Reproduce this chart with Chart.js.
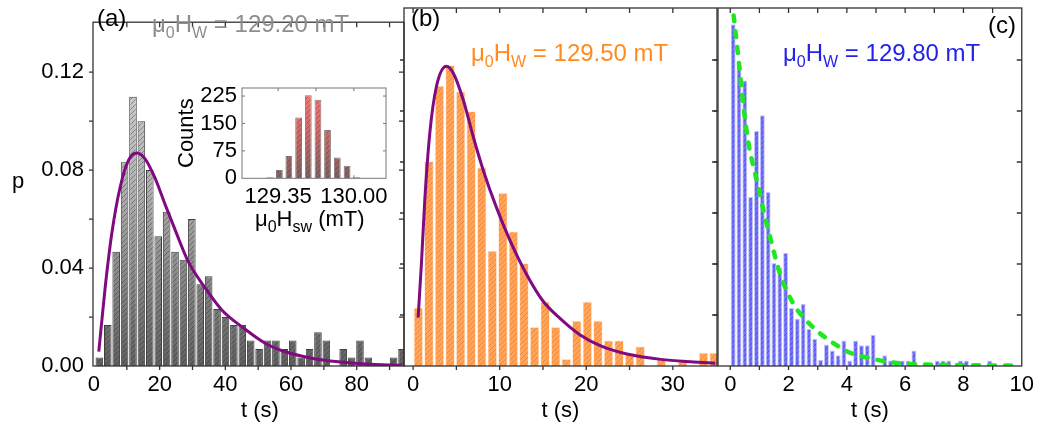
<!doctype html>
<html lang="en">
<head>
<meta charset="UTF-8">
<title>Waiting time histograms</title>
<script src="https://cdn.jsdelivr.net/npm/chart.js"></script>
<style>
    body { margin: 0; background: #fff; }
    #wrap { position: relative; width: 1040px; height: 428px; overflow: hidden;
            font-family: "Liberation Sans", Arial, sans-serif; }
    #wrap canvas { position: absolute; left: 0; top: 0; }
    .lbl { position: absolute; font-size: 22px; line-height: 22px; white-space: nowrap; }
    .big { font-size: 24px; line-height: 24px; }
    .lbl sub { font-size: 16px; vertical-align: -6px; line-height: 0; }
</style>
</head>
<body>
<div id="wrap">
    <canvas id="chartA" width="1040" height="428"></canvas>
    <canvas id="chartB" width="1040" height="428"></canvas>
    <canvas id="chartC" width="1040" height="428"></canvas>
    <canvas id="inset" width="1040" height="428"></canvas>

    <div class="lbl" style="left:12px; top:170px;">p</div>
    <div class="lbl" style="left:241px; top:399px;">t (s)</div>

    <div class="lbl big" style="left:97px; top:6px;">(a)</div>
    <div class="lbl big" style="left:411px; top:6px;">(b)</div>
    <div class="lbl big" style="left:988px; top:13px;">(c)</div>

    <div class="lbl big" style="left:152px; top:12px; color:#8e8e8e;">&mu;<sub>0</sub>H<sub>W</sub> = 129.20 mT</div>
    <div class="lbl big" style="left:471px; top:41px; color:#ff8a1e;">&mu;<sub>0</sub>H<sub>W</sub> = 129.50 mT</div>
    <div class="lbl big" style="left:783px; top:41px; color:#2222e8;">&mu;<sub>0</sub>H<sub>W</sub> = 129.80 mT</div>

    <div class="lbl" style="left:255px; top:208px;">&mu;<sub>0</sub>H<sub>sw</sub> (mT)</div>
</div>

<script>
    // ---- data ----
    // (a) mu0HW = 129.20 mT : bin centres (s) and probabilities
    var tA = [1.64, 4.20, 6.76, 9.32, 11.88, 14.44, 17.00, 19.56, 22.12, 24.68, 27.24, 29.80, 32.36,
        34.92, 37.48, 40.04, 42.60, 45.16, 47.72, 50.28, 52.84, 55.40, 57.96, 60.52, 63.08, 65.64,
        68.20, 70.76, 73.32, 75.88, 78.44, 81.00, 83.56, 86.12, 88.68, 91.24, 93.80];
    var pA = [0.0035, 0.0167, 0.0467, 0.0832, 0.110, 0.100, 0.080, 0.053, 0.063, 0.0467, 0.0434, 0.060,
        0.0334, 0.0367, 0.0233, 0.020, 0.0167, 0.0167, 0.0104, 0.0069, 0.0104, 0.0104, 0.0069, 0.0104,
        0.0035, 0.0069, 0.0138, 0.0104, 0, 0.0069, 0.0035, 0.0104, 0.0035, 0, 0, 0.0035, 0.0069];
    var fitTA = [1.46, 3.40, 5.41, 7.96, 10.49, 13.01, 15.56, 18.60, 21.64, 24.68, 28.72, 33.80, 38.84,
        46.05, 52.13, 58.21, 66.32, 74.41, 82.52, 93.68];
    var fitPA = [0.0059, 0.032, 0.054, 0.073, 0.084, 0.087, 0.0846, 0.0767, 0.066, 0.0557, 0.0426, 0.032,
        0.023, 0.015, 0.0093, 0.0058, 0.0032, 0.0017, 0.0008, 0.0003];

    // (b) mu0HW = 129.50 mT
    var tB = [0.61, 1.83, 3.05, 4.27, 5.49, 6.71, 7.93, 9.15, 10.37, 11.59, 12.81, 14.03, 15.25, 16.47,
        17.69, 18.91, 20.13, 21.35, 22.57, 23.79, 25.01, 26.23, 27.45, 28.67, 29.89, 31.11, 32.33,
        33.55, 34.77];
    var pB = [0.0229, 0.0804, 0.110, 0.118, 0.1078, 0.100, 0.0779, 0.0453, 0.0679, 0.0528, 0.0404, 0.0154,
        0.0253, 0.0154, 0.0028, 0.0178, 0.0253, 0.0178, 0.0101, 0.0101, 0.0046, 0.0077, 0, 0.0026, 0,
        0.0026, 0, 0.0053, 0.0053];
    var fitTB = [0.58, 0.96, 1.35, 1.93, 2.7, 3.85, 4.62, 5.78, 6.94, 8.1, 9.6, 11.2, 13.1, 15.0, 17.0,
        19.3, 21.6, 24.7, 28.6, 32.4, 34.9];
    var fitPB = [0.019, 0.040, 0.065, 0.0913, 0.1097, 0.1176, 0.115, 0.1045, 0.090, 0.0768, 0.0624, 0.0492,
        0.036, 0.0255, 0.0186, 0.0122, 0.008, 0.0047, 0.0026, 0.0016, 0.0011];

    // (c) mu0HW = 129.80 mT
    var tC = [0.1, 0.3, 0.5, 0.7, 0.9, 1.1, 1.3, 1.5, 1.7, 1.9, 2.1, 2.3, 2.5, 2.7, 2.9, 3.1, 3.3, 3.5,
        3.7, 3.9, 4.1, 4.3, 4.5, 4.7, 4.9, 5.1, 5.3, 5.5, 5.7, 5.9, 6.1, 6.3, 6.5, 6.7, 6.9, 7.1, 7.3,
        7.5, 7.7, 7.9, 8.1, 8.3, 8.5, 8.7, 8.9, 9.1, 9.3, 9.5, 9.7, 9.9];
    var pC = [0.134, 0.118, 0.112, 0.0663, 0.0922, 0.0983, 0.0682, 0.0404, 0.0386, 0.0444, 0.0227, 0.0186,
        0.0244, 0.0146, 0.0107, 0.0025, 0.0084, 0.0061, 0.0042, 0.010, 0.0022, 0.010, 0.0081, 0.0081,
        0.0123, 0, 0.0042, 0.0022, 0.0022, 0.0022, 0.0022, 0.0061, 0, 0, 0, 0.0022, 0.0022, 0.0022, 0,
        0.0022, 0.0022, 0, 0, 0, 0.0022, 0, 0, 0, 0, 0];
    var fitTC = [0.116, 0.287, 0.457, 0.628, 0.799, 0.969, 1.14, 1.365, 1.706, 2.164, 2.5, 3.027, 3.481,
        4.051, 4.621, 5.188, 5.87, 7.01, 8.26, 9.74];
    var fitPC = [0.1375, 0.12, 0.1016, 0.0872, 0.078, 0.070, 0.061, 0.0506, 0.0362, 0.0244, 0.0192, 0.0133,
        0.0094, 0.0055, 0.0035, 0.0021, 0.001, 0.0005, 0.0003, 0.0002];

    // inset: switching field distribution
    var insetField = [129.279, 129.361, 129.442, 129.526, 129.609, 129.692, 129.774, 129.858, 129.942, 130.024];
    var insetCounts = [3, 23, 61, 166, 227, 215, 132, 57, 34, 3];
    var insetTicks = [129.35, 130.00];
    var countTicks = [0, 75, 150, 225];

    // ---- styling helpers ----
    Chart.defaults.font.family = '"Liberation Sans", Arial, sans-serif';
    Chart.defaults.color = '#000';

    // hatched fill whose base colour follows a vertical gradient in page coordinates
    function hatch(stops, y0, y1, line) {
        var c = document.createElement('canvas');
        c.width = 5; c.height = 428;
        var g = c.getContext('2d');
        var grad = g.createLinearGradient(0, y0, 0, y1);
        stops.forEach(function (s, i) { grad.addColorStop(i / (stops.length - 1), s); });
        g.fillStyle = grad;
        g.fillRect(0, 0, 5, 428);
        g.strokeStyle = line;
        g.lineWidth = 1;
        for (var k = 0; k <= 88; k++) {
            g.beginPath();
            g.moveTo(-1, 5 * k + 1);
            g.lineTo(6, 5 * k - 6);
            g.stroke();
        }
        return g.createPattern(c, 'repeat');
    }

    // box around the plot plus Origin-style tick marks
    var frame = {
        id: 'frame',
        afterDatasetsDraw: function (chart, args, o) {
            var ctx = chart.ctx, a = chart.chartArea, x = chart.scales.x, y = chart.scales.y;
            ctx.save();
            ctx.strokeStyle = o.color;
            ctx.lineWidth = o.width;
            ctx.beginPath();
            o.xTicks.forEach(function (v) {
                var px = x.getPixelForValue(v);
                if (px < a.left + 1 || px > a.right - 1) return;
                ctx.moveTo(px, a.top - o.top[0]); ctx.lineTo(px, a.top + o.top[1]);
                ctx.moveTo(px, a.bottom - o.bottom[1]); ctx.lineTo(px, a.bottom + o.bottom[0]);
            });
            o.yTicks.forEach(function (v) {
                var py = y.getPixelForValue(v);
                ctx.moveTo(a.left - o.left[0], py); ctx.lineTo(a.left + o.left[1], py);
                ctx.moveTo(a.right - o.right[1], py); ctx.lineTo(a.right + o.right[0], py);
            });
            ctx.stroke();
            ctx.strokeRect(a.left, a.top, a.right - a.left, a.bottom - a.top);
            ctx.restore();
        }
    };

    var pTicks = [0.02, 0.04, 0.06, 0.08, 0.10, 0.12];

    function near(v, step) {
        return Math.abs(v / step - Math.round(v / step)) < 1e-6;
    }

    function panel(id, cfg) {
        return new Chart(document.getElementById(id), {
            type: 'bar',
            data: {
                datasets: [{
                    type: 'line',
                    data: cfg.fitT.map(function (t, i) { return {x: t, y: cfg.fitP[i]}; }),
                    borderColor: cfg.fitColor,
                    borderWidth: cfg.fitWidth,
                    borderDash: cfg.dash || [],
                    borderCapStyle: cfg.dash ? 'round' : 'butt',
                    pointRadius: 0,
                    cubicInterpolationMode: 'monotone',
                    order: 0
                }, {
                    data: cfg.t.map(function (t, i) { return {x: t, y: cfg.p[i]}; }),
                    backgroundColor: cfg.fill,
                    borderColor: cfg.edge,
                    borderWidth: 1,
                    borderSkipped: 'bottom',
                    barPercentage: cfg.barPct,
                    categoryPercentage: 1,
                    order: 1
                }]
            },
            options: {
                responsive: false,
                animation: false,
                events: [],
                layout: {padding: cfg.pad},
                plugins: {
                    legend: {display: false},
                    tooltip: {enabled: false},
                    frame: {
                        color: '#333', width: 1.3, xTicks: cfg.xTicks, yTicks: pTicks,
                        top: [0, 5], bottom: [4, 0], left: [4, 0], right: [0, 5]
                    }
                },
                scales: {
                    x: {
                        type: 'linear', offset: false, min: cfg.xMin, max: cfg.xMax,
                        afterBuildTicks: function (s) {
                            s.ticks = cfg.xTicks.map(function (v) { return {value: v}; });
                        },
                        grid: {display: false, drawTicks: false},
                        border: {display: false},
                        ticks: {
                            autoSkip: false, maxRotation: 0, padding: 6,
                            font: {size: 22}, color: '#000',
                            callback: function (v) {
                                return near(v, cfg.labelStep) && v <= cfg.labelMax ? String(Math.round(v)) : '';
                            }
                        },
                        title: {
                            display: cfg.title, text: 't (s)', font: {size: 22}, color: '#000',
                            padding: {top: 0, bottom: 4}
                        },
                        afterFit: function (s) { s.height = 62; }
                    },
                    y: {
                        display: cfg.yAxis, min: 0, max: 0.1404,
                        afterBuildTicks: function (s) {
                            s.ticks = [0].concat(pTicks).map(function (v) { return {value: v}; });
                        },
                        grid: {display: false, drawTicks: false},
                        border: {display: false},
                        ticks: {
                            padding: 9, font: {size: 22}, color: '#000',
                            callback: function (v) { return near(v, 0.04) ? v.toFixed(2) : ''; }
                        },
                        afterFit: function (s) { s.width = cfg.yAxis ? 93 : 0; }
                    }
                }
            },
            plugins: [frame]
        });
    }

    panel('chartA', {
        t: tA, p: pA, fitT: fitTA, fitP: fitPA,
        fill: hatch(['#e2e2e2', '#b0b0b0', '#606060'], 8, 366, 'rgba(40,40,40,0.4)'),
        edge: '#3e3e3e', barPct: 0.9,
        fitColor: '#800a80', fitWidth: 3,
        pad: {left: 0, top: 8, right: 636, bottom: 0},
        xMin: -0.3, xMax: 94.4, labelStep: 20, labelMax: 80,
        xTicks: [0, 10, 20, 30, 40, 50, 60, 70, 80, 90],
        title: false, yAxis: true
    });

    panel('chartB', {
        t: tB, p: pB, fitT: fitTB, fitP: fitPB,
        fill: hatch(['#ffa458', '#ffa458'], 8, 366, 'rgba(235,95,10,0.45)'),
        edge: '#fff1e4', barPct: 0.93,
        fitColor: '#800a80', fitWidth: 3,
        pad: {left: 404, top: 8, right: 323, bottom: 0},
        xMin: -1.05, xMax: 35.1, labelStep: 10, labelMax: 30,
        xTicks: [0, 5, 10, 15, 20, 25, 30, 35],
        title: true, yAxis: false
    });

    panel('chartC', {
        t: tC, p: pC, fitT: fitTC, fitP: fitPC,
        fill: hatch(['#7070f8', '#7070f8'], 8, 366, 'rgba(30,30,200,0.4)'),
        edge: '#c8c8ff', barPct: 0.86,
        fitColor: '#22e622', fitWidth: 4.5, dash: [6, 10],
        pad: {left: 718, top: 8, right: 16, bottom: 0},
        xMin: -0.42, xMax: 10, labelStep: 2, labelMax: 10,
        xTicks: [0, 1, 2, 3, 4, 5, 6, 7, 8, 9, 10],
        title: true, yAxis: false
    });

    // inset histogram
    new Chart(document.getElementById('inset'), {
        type: 'bar',
        data: {
            datasets: [{
                data: insetField.map(function (f, i) { return {x: f, y: insetCounts[i]}; }),
                backgroundColor: hatch(['#ff7676', '#cc6a6a', '#7c6262'], 88, 178, 'rgba(70,20,20,0.3)'),
                borderColor: '#8a7878',
                borderWidth: 1,
                borderSkipped: 'bottom',
                barPercentage: 0.72,
                categoryPercentage: 1
            }]
        },
        options: {
            responsive: false,
            animation: false,
            events: [],
            layout: {padding: {left: 170, top: 88, right: 654, bottom: 0}},
            plugins: {
                legend: {display: false},
                tooltip: {enabled: false},
                frame: {
                    color: '#777', width: 1, xTicks: [129.35, 129.675, 130.0], yTicks: [75, 150, 225],
                    top: [0, 3], bottom: [0, 3], left: [0, 3], right: [0, 3]
                }
            },
            scales: {
                x: {
                    type: 'linear', offset: false, min: 129.04, max: 130.276,
                    afterBuildTicks: function (s) {
                        s.ticks = insetTicks.map(function (v) { return {value: v}; });
                    },
                    grid: {display: false, drawTicks: false},
                    border: {display: false},
                    ticks: {
                        autoSkip: false, maxRotation: 0, padding: 5, font: {size: 22}, color: '#000',
                        callback: function (v) { return v.toFixed(2); }
                    },
                    afterFit: function (s) { s.height = 249.7; }
                },
                y: {
                    min: 0, max: 247,
                    afterBuildTicks: function (s) {
                        s.ticks = countTicks.map(function (v) { return {value: v}; });
                    },
                    grid: {display: false, drawTicks: false},
                    border: {display: false},
                    ticks: {
                        padding: 5, font: {size: 22}, color: '#000',
                        callback: function (v) { return String(v); }
                    },
                    title: {
                        display: true, text: 'Counts', font: {size: 22}, color: '#000',
                        padding: {top: 4, bottom: 0}
                    },
                    afterFit: function (s) { s.width = 72; }
                }
            }
        },
        plugins: [frame]
    });
</script>
</body>
</html>
